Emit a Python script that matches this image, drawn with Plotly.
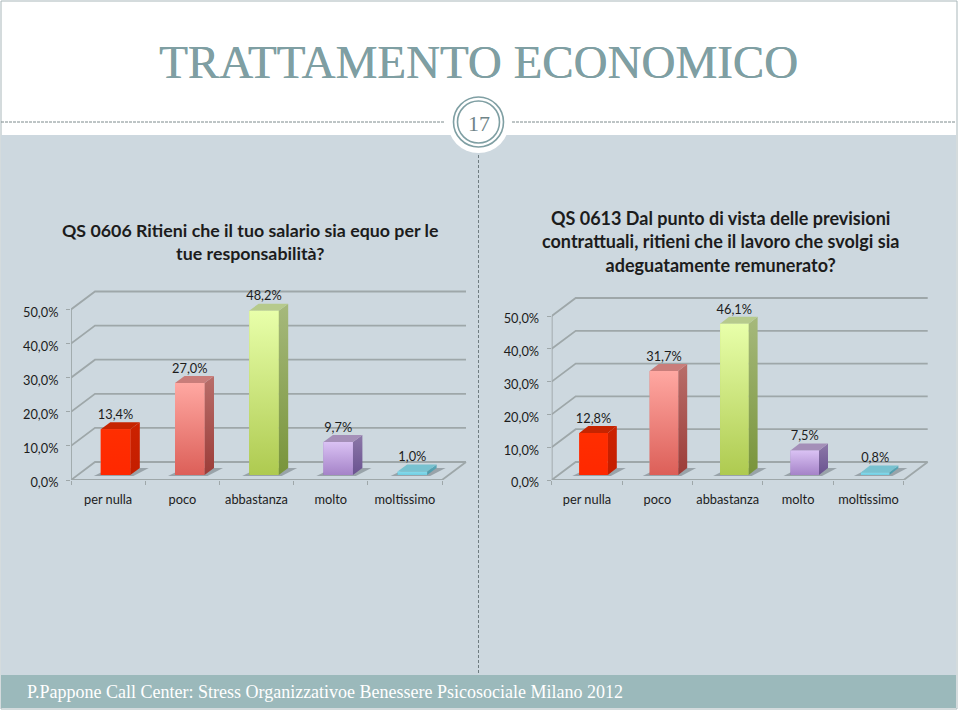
import plotly.graph_objects as go

W, H = 960, 712

# ---- data ----
categories = ["per nulla", "poco", "abbastanza", "molto", "moltissimo"]
values_left = [13.4, 27.0, 48.2, 9.7, 1.0]
values_right = [12.8, 31.7, 46.1, 7.5, 0.8]
labels_left = ["13,4%", "27,0%", "48,2%", "9,7%", "1,0%"]
labels_right = ["12,8%", "31,7%", "46,1%", "7,5%", "0,8%"]
y_ticks = [0, 10, 20, 30, 40, 50]
y_tick_labels = ["0,0%", "10,0%", "20,0%", "30,0%", "40,0%", "50,0%"]
title_left = "QS 0606 Ritieni che il tuo salario sia equo per le<br>tue responsabilità?"
title_right = ("QS 0613 Dal punto di vista delle previsioni<br>"
               "contrattuali, ritieni che il lavoro che svolgi sia<br>"
               "adeguatamente remunerato?")
slide_title = "TRATTAMENTO ECONOMICO"
slide_number = "17"
footer = "P.Pappone Call Center: Stress Organizzativoe Benessere Psicosociale Milano 2012"

# ---- styles: front top, front bottom, side top, side bottom, top face ----
palette = [
    ("#ff2e00", "#ff2800", "#cc2200", "#c41e00", "#c62400"),
    ("#ffa8a2", "#dc5f58", "#b86e6a", "#9c3c38", "#c97d7a"),
    ("#e8ffaa", "#aeca50", "#a6b97c", "#78943a", "#b6ca8c"),
    ("#dac2f4", "#a583c8", "#8c78a8", "#6a5290", "#a48fb8"),
    ("#86dcec", "#70cde2", "#5aa8b8", "#4c98a8", "#78c2d0"),
]
GRID = "#9ea7a9"
TEXT = "#1c1c1c"
TEAL = "#7f9fa3"
PANEL = "#cdd8df"
BAND = "#9bb9bb"
LABEL_FONT = "Lato"

fig = go.Figure()


def px_x(p):
    return p / W


def px_y(p):
    return 1 - p / H


def draw_chart(suffix, values, labels, x0, x1, ppc, y_zero, y_top, ppv,
               bar_off, bar_w, bar_side, bar_dy):
    xref, yref = "x" + suffix, "y" + suffix
    deep_x = 24 / ppc
    deep_y = 18 / ppv
    n = len(categories)
    side = bar_side / ppc
    rise = bar_dy / ppv
    base = 5 / ppv
    width = bar_w / ppc
    offs = bar_off / ppc

    def add_line(xs, ys, w=1.8, color=GRID):
        fig.add_trace(go.Scatter(x=xs, y=ys, xaxis=xref, yaxis=yref, mode="lines",
                                 line=dict(color=color, width=w), hoverinfo="skip",
                                 showlegend=False, cliponaxis=False))

    def add_poly(xs, ys, **kw):
        fig.add_trace(go.Scatter(x=xs, y=ys, xaxis=xref, yaxis=yref, mode="lines",
                                 fill="toself", line=dict(width=0), hoverinfo="skip",
                                 showlegend=False, cliponaxis=False, **kw))

    # data bars (front faces)
    fig.add_trace(go.Bar(
        x=[i + offs + width / 2 for i in range(n)], y=values, base=[base] * n,
        width=width, xaxis=xref, yaxis=yref, showlegend=False, cliponaxis=False,
        marker=dict(color=[p[1] for p in palette], line=dict(width=0)),
        customdata=categories, hovertemplate="%{customdata}: %{y}%<extra></extra>"))

    # walls and floor
    for v in y_ticks:
        add_line([0, deep_x, n + deep_x], [v, v + deep_y, v + deep_y])
    add_line([0, 0], [0, y_ticks[-1]])
    add_line([0, n, n + deep_x], [0, 0, deep_y])

    # 3D faces computed from the values
    for i, v in enumerate(values):
        c = palette[i]
        left = i + offs
        right = left + width
        top = base + v
        add_poly([left - 7 / ppc, right + 3 / ppc, right + side + 9 / ppc, left + side],
                 [base - 1 / ppv, base - 1 / ppv, base + rise, base + rise],
                 fillcolor="rgba(80,90,95,0.42)")
        add_poly([right, right + side, right + side, right],
                 [base, base + rise, top + rise, top],
                 fillcolor=c[2],
                 fillgradient=dict(type="vertical",
                                   colorscale=[[0, c[3]], [1, c[2]]]))
        add_poly([left, left + side, right + side, right],
                 [top, top + rise, top + rise, top], fillcolor=c[4])
        add_poly([left, right, right, left], [base, base, top, top],
                 fillcolor=c[0],
                 fillgradient=dict(type="vertical",
                                   colorscale=[[0, c[1]], [1, c[0]]]))

    # value labels
    fig.add_trace(go.Scatter(
        x=[i + offs + width / 2 for i in range(n)],
        y=[base + v + rise for v in values],
        text=labels, mode="text", textposition="top center",
        textfont=dict(family=LABEL_FONT, size=12.8, color=TEXT),
        xaxis=xref, yaxis=yref, showlegend=False, hoverinfo="skip", cliponaxis=False))

    x_axis = dict(
        domain=[px_x(x0), px_x(x1)], range=[0, (x1 - x0) / ppc], anchor=yref,
        showgrid=False, zeroline=False, showline=False,
        tickmode="array", tickvals=[i + 0.5 for i in range(n)], ticktext=categories,
        ticks="", ticklabelstandoff=10,
        tickfont=dict(family=LABEL_FONT, size=12.8, color=TEXT),
        minor=dict(tickmode="array", tickvals=list(range(n + 1)), ticks="outside",
                   ticklen=4, tickwidth=1.2, tickcolor=GRID, showgrid=False),
    )
    y_axis = dict(
        domain=[px_y(y_zero), px_y(y_top)], range=[0, (y_zero - y_top) / ppv], anchor=xref,
        showgrid=False, zeroline=False, showline=False,
        tickmode="array", tickvals=y_ticks, ticktext=y_tick_labels,
        ticks="outside", ticklen=4, tickwidth=1.2, tickcolor=GRID, ticklabelstandoff=5,
        ticklabelshift=3,
        tickfont=dict(family=LABEL_FONT, size=12.8, color=TEXT),
    )
    key = suffix if suffix else ""
    fig.update_layout({"xaxis" + key: x_axis, "yaxis" + key: y_axis})


draw_chart("", values_left, labels_left, 71, 468, 74.2, 480, 285, 3.41, 29.8, 29.5, 9.5, 7)
draw_chart("2", values_right, labels_right, 551.7, 930, 70.4, 480, 285, 3.28, 27.6, 28.5, 9, 7)


def rect(x0, y0, x1, y1, fill, line=None, layer="below"):
    return dict(type="rect", xref="paper", yref="paper", x0=px_x(x0), x1=px_x(x1),
                y0=px_y(y0), y1=px_y(y1), fillcolor=fill, layer=layer,
                line=dict(width=0 if line is None else 1, color=line or fill))


def hline(x0, x1, y):
    return dict(type="line", xref="paper", yref="paper", x0=px_x(x0), x1=px_x(x1),
                y0=px_y(y), y1=px_y(y), layer="below",
                line=dict(color="#7d8a8c", width=1, dash="3px,1px"))


def circle(cx, cy, r, fill, line=None, w=1.5):
    return dict(type="circle", xref="paper", yref="paper", x0=px_x(cx - r), x1=px_x(cx + r),
                y0=px_y(cy + r), y1=px_y(cy - r), fillcolor=fill, layer="below",
                line=dict(width=w if line else 0, color=line or fill))


shapes = [
    rect(1, 1, 957, 709, "#ffffff", "#a9b7ba"),
    rect(1, 135, 956, 675, PANEL),
    rect(1, 675, 956, 708, BAND),
    hline(1, 445, 122), hline(512, 956, 122),
    dict(type="line", xref="paper", yref="paper", x0=px_x(478.5), x1=px_x(478.5),
         y0=px_y(155), y1=px_y(675), layer="below",
         line=dict(color="#6f7c80", width=1, dash="3px,2px")),
    circle(478.5, 122, 31, "#ffffff"),
    circle(478.5, 122, 25, "#ffffff", TEAL, 1.6),
    circle(478.5, 122, 21, "#ffffff", TEAL, 1.6),
]


def note(text, x, y, size, color, family, anchor="center", bold=False, shadow=None):
    font = dict(family=family, size=size, color=color)
    if shadow:
        font["shadow"] = shadow
    return dict(text=f"<b>{text}</b>" if bold else text, xref="paper", yref="paper",
                x=px_x(x), y=px_y(y), xanchor=anchor, yanchor="middle", showarrow=False,
                align="center", font=font)


annotations = [
    note(slide_title, 478.5, 62, 47, TEAL, "Liberation Serif",
         shadow=f"0.4px 0 0 {TEAL}"),
    note(slide_number, 478.5, 124, 22, "#6f8488", "Liberation Serif"),
    note(title_left, 250, 241.5, 17.8, TEXT, LABEL_FONT, bold=True),
    note(title_right, 720, 241, 18, TEXT, LABEL_FONT, bold=True),
    note(footer, 25, 692, 18, "#ffffff", "Liberation Serif", anchor="left"),
]

fig.update_layout(
    width=W, height=H, autosize=False,
    margin=dict(l=0, r=0, t=0, b=0, pad=0, autoexpand=False),
    paper_bgcolor="#ffffff", plot_bgcolor="rgba(0,0,0,0)", showlegend=False,
    shapes=shapes, annotations=annotations, barmode="overlay",
)

fig.write_html("out.html", config={"displayModeBar": False},
               post_script="document.body.style.margin='0';document.body.style.overflow='hidden';")
